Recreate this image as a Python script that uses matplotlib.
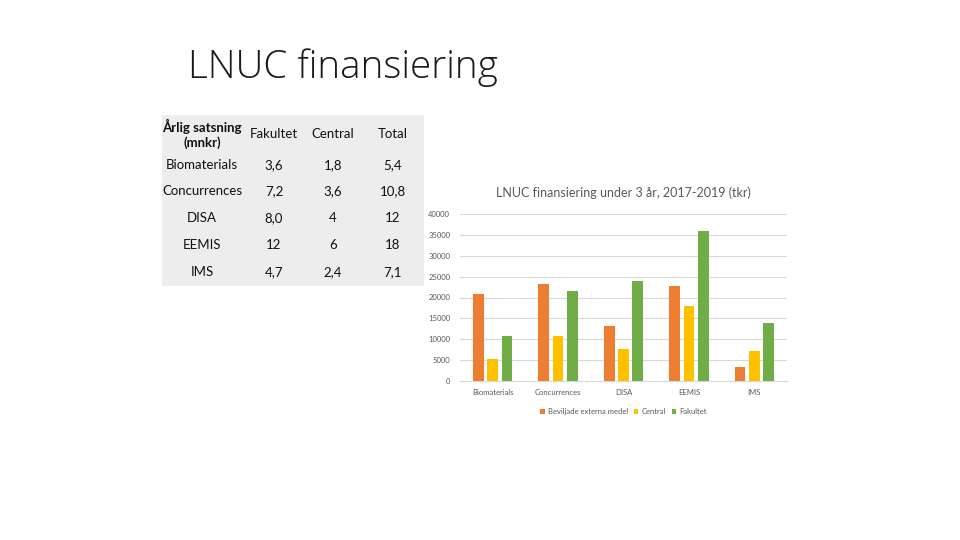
import numpy as np
import matplotlib.pyplot as plt
from matplotlib.patches import Rectangle

plt.rcParams['font.family'] = ['Lato', 'DejaVu Sans']

# table data (mnkr per year)
table_header = ['Årlig satsning\n(mnkr)', 'Fakultet', 'Central', 'Total']
table_names = ['Biomaterials', 'Concurrences', 'DISA', 'EEMIS', 'IMS']
table_fakultet = ['3,6', '7,2', '8,0', '12', '4,7']
table_central = ['1,8', '3,6', '4', '6', '2,4']
table_total = ['5,4', '10,8', '12', '18', '7,1']

# chart data (tkr, 2017-2019)
categories = ['Biomaterials', 'Concurrences', 'DISA', 'EEMIS', 'IMS']
series_names = ['Beviljade externa medel', 'Central', 'Fakultet']
beviljade = [20800, 23200, 13100, 22800, 3400]
central = [5300, 10700, 7700, 17900, 7100]
fakultet = [10700, 21500, 23900, 36000, 14000]
colors = ['#ED7D31', '#FFC000', '#70AD47']

W, H = 960, 540
fig = plt.figure(figsize=(9.6, 5.4), dpi=100)
fig.patch.set_facecolor('white')

def fx(px):
    return px / W

def fy(py):
    return 1 - py / H

# slide title
fig.text(fx(188), fy(68), 'LNUC finansiering', fontsize=27.8, color='#1a1a1a',
         va='center', ha='left', family=['Open Sans', 'Lato'], fontweight=300)

# table background
fig.patches.append(Rectangle((fx(162), fy(286)), fx(424) - fx(162), fy(115) - fy(286),
                             transform=fig.transFigure, facecolor='#EDEDED',
                             edgecolor='none', zorder=0))

col_x = [202, 274, 333, 393]
row_y = [165, 191, 218, 245, 272]
tcol = '#111111'
fig.text(fx(col_x[0]), fy(134), table_header[0], fontsize=9.5, ha='center', va='center',
         color=tcol, fontweight='bold', linespacing=1.15)
for x, h in zip(col_x[1:], table_header[1:]):
    fig.text(fx(x), fy(134), h, fontsize=9.5, ha='center', va='center', color=tcol)
for i, y in enumerate(row_y):
    row = [table_names[i], table_fakultet[i], table_central[i], table_total[i]]
    for x, v in zip(col_x, row):
        fig.text(fx(x), fy(y), v, fontsize=9.5, ha='center', va='center', color=tcol)

# bar chart
ax = fig.add_axes([fx(460), fy(381), fx(787) - fx(460), fy(214) - fy(381)])
x = np.arange(len(categories))
w = 0.165
step = 0.22
for k, (vals, c, name) in enumerate(zip([beviljade, central, fakultet], colors, series_names)):
    ax.bar(x + (k - 1) * step, vals, width=w, color=c, label=name, zorder=3)

ax.set_xlim(-0.5, len(categories) - 0.5)
ax.set_ylim(0, 40000)
ax.set_yticks(np.arange(0, 40001, 5000))
ax.set_yticklabels([str(v) for v in range(0, 40001, 5000)])
ax.set_xticks(x)
ax.set_xticklabels(categories)
ax.tick_params(axis='both', length=0, labelsize=5.5, colors='#595959')
ax.tick_params(axis='x', pad=6)
ax.tick_params(axis='y', pad=7)
ax.grid(axis='y', color='#D9D9D9', linewidth=0.8, zorder=0)
for s in ['top', 'right', 'left']:
    ax.spines[s].set_visible(False)
ax.spines['bottom'].set_color('#D9D9D9')

ax.set_title('LNUC finansiering under 3 år, 2017-2019 (tkr)', fontsize=9, color='#595959', pad=12)

ax.legend(loc='upper center', bbox_to_anchor=(0.5, -0.12), ncol=3, frameon=False,
          fontsize=5.5, labelcolor='#595959', handlelength=0.6, handleheight=0.6,
          handletextpad=0.4, columnspacing=0.8)

fig.savefig('out.png', dpi=100)
